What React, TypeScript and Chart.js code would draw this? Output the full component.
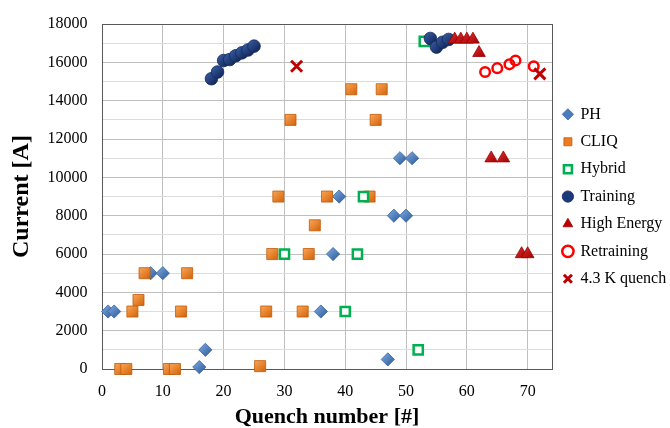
import { useEffect, useRef } from 'react';
import { Chart, registerables } from 'chart.js';

Chart.register(...registerables);

const SERIF = "'Liberation Serif', 'Times New Roman', serif";

// Quench number / current pairs for each quench category
const PH_X = [1, 2, 8, 10, 16, 17, 36, 38, 39, 47, 48, 49, 50, 51];
const PH_Y = [3000, 3000, 5000, 5000, 100, 1000, 3000, 6000, 9000, 500, 8000, 11000, 8000, 11000];

const CLIQ_X = [3, 4, 5, 6, 7, 11, 12, 13, 14, 26, 27, 28, 29, 31, 33, 34, 35, 37, 41, 44, 45, 46];
const CLIQ_Y = [0, 0, 3000, 3600, 5000, 0, 0, 3000, 5000, 150, 3000, 6000, 9000, 13000, 3000, 6000, 7500, 9000, 14600, 9000, 13000, 14600];

const HYBRID_X = [30, 40, 42, 43, 52, 53];
const HYBRID_Y = [6000, 3000, 6000, 9000, 1000, 17100];

const TRAINING_X = [18, 19, 20, 21, 22, 23, 24, 25, 54, 55, 56, 57];
const TRAINING_Y = [15150, 15500, 16100, 16150, 16350, 16500, 16650, 16850, 17250, 16800, 17050, 17200];

const HIGH_ENERGY_X = [58, 59, 60, 61, 62, 64, 66, 69, 70];
const HIGH_ENERGY_Y = [17200, 17200, 17200, 17200, 16500, 11000, 11000, 6000, 6000];

const RETRAINING_X = [63, 65, 67, 68, 71];
const RETRAINING_Y = [15500, 15700, 15900, 16100, 15800];

const QUENCH_43K_X = [32, 72];
const QUENCH_43K_Y = [15800, 15400];

// Axis ticks: grid every 1000 A, labels every 2000 A
const X_TICKS = [0, 10, 20, 30, 40, 50, 60, 70];
const Y_GRID = [0, 1000, 2000, 3000, 4000, 5000, 6000, 7000, 8000, 9000, 10000, 11000, 12000, 13000, 14000, 15000, 16000, 17000, 18000];
const Y_LABELS = [0, 2000, 4000, 6000, 8000, 10000, 12000, 14000, 16000, 18000];

const pairs = (xs: number[], ys: number[]) => xs.map((x, i) => ({ x, y: ys[i] }));

// Bevel-like fill: lighter toward the upper left of each marker, darker toward the lower right
const shaded = (light: string, dark: string, flat: string) => (c: any) => {
  const chart = c.chart;
  const raw = c.raw;
  const xs = chart?.scales?.x;
  const ys = chart?.scales?.y;
  if (!raw || !xs || !ys) return flat;
  const px = xs.getPixelForValue(raw.x);
  const py = ys.getPixelForValue(raw.y);
  if (!isFinite(px) || !isFinite(py)) return flat;
  const g = chart.ctx.createLinearGradient(px - 6, py - 6, px + 5, py + 6);
  g.addColorStop(0, light);
  g.addColorStop(1, dark);
  return g;
};

const plotFrame = {
  id: 'plotFrame',
  beforeDatasetsDraw(chart: any) {
    const { ctx, chartArea: a } = chart;
    ctx.save();
    ctx.strokeStyle = '#595959';
    ctx.lineWidth = 1;
    ctx.strokeRect(
      Math.round(a.left) + 0.5,
      Math.round(a.top) + 0.5,
      Math.round(a.right - a.left),
      Math.round(a.bottom - a.top)
    );
    ctx.restore();
  },
};

export default function App() {
  const canvasRef = useRef<HTMLCanvasElement>(null);

  useEffect(() => {
    if (!canvasRef.current) return;
    const base = { showLine: false, clip: false as const };
    const datasets: any[] = [
      {
        ...base, label: 'PH', data: pairs(PH_X, PH_Y),
        pointStyle: 'rectRot', pointRadius: 6.6,
        backgroundColor: shaded('#7ea9df', '#2f5f9e', '#4a7dbf'), borderColor: '#3a659e', borderWidth: 0.8,
        legendFill: '#4a7dbf',
      },
      {
        ...base, label: 'CLIQ', data: pairs(CLIQ_X, CLIQ_Y),
        pointStyle: 'rect', pointRadius: 7.8,
        backgroundColor: shaded('#fba95a', '#d4620a', '#ee7d22'), borderColor: '#c25a08', borderWidth: 0.8,
        legendFill: '#ee7d22',
      },
      {
        ...base, label: 'Hybrid', data: pairs(HYBRID_X, HYBRID_Y),
        pointStyle: 'rect', pointRadius: 6.5,
        backgroundColor: '#ffffff', borderColor: '#00b050', borderWidth: 2.5,
        legendFill: '#ffffff',
      },
      {
        ...base, label: 'Training', data: pairs(TRAINING_X, TRAINING_Y),
        pointStyle: 'circle', pointRadius: 6.3,
        backgroundColor: shaded('#3a5ea6', '#0f2354', '#1c3a7a'), borderColor: '#12295a', borderWidth: 0.8,
        legendFill: '#1c3a7a',
      },
      {
        ...base, label: 'High Energy', data: pairs(HIGH_ENERGY_X, HIGH_ENERGY_Y),
        pointStyle: 'triangle', pointRadius: 7.3,
        backgroundColor: shaded('#e02a2a', '#980000', '#c00000'), borderColor: '#a00000', borderWidth: 0.8,
        legendFill: '#c00000',
      },
      {
        ...base, label: 'Retraining', data: pairs(RETRAINING_X, RETRAINING_Y),
        pointStyle: 'circle', pointRadius: 4.8,
        backgroundColor: 'rgba(255,255,255,0)', borderColor: '#ff0000', borderWidth: 2.5,
        legendFill: 'rgba(255,255,255,0)',
      },
      {
        ...base, label: '4.3 K quench', data: pairs(QUENCH_43K_X, QUENCH_43K_Y),
        pointStyle: 'crossRot', pointRadius: 7.8,
        backgroundColor: '#c00000', borderColor: '#c00000', borderWidth: 3,
        legendFill: '#c00000',
      },
    ];
    // later series are painted over earlier ones
    datasets.forEach((d, i) => { d.order = -i; });

    const defaultLabels = (Chart.defaults as any).plugins.legend.labels.generateLabels;

    const chart = new Chart(canvasRef.current, {
      type: 'scatter',
      data: { datasets },
      options: {
        animation: false,
        responsive: true,
        maintainAspectRatio: false,
        layout: { padding: { top: 17, left: 0, right: 0, bottom: 0 } },
        font: { family: SERIF },
        plugins: {
          tooltip: { enabled: false },
          legend: {
            position: 'right',
            fullSize: false,
            maxWidth: 118,
            labels: {
              usePointStyle: true,
              boxWidth: 9,
              boxHeight: 8,
              padding: 11.4,
              color: '#000000',
              font: { family: SERIF, size: 16 },
              sort: (a: any, b: any) => a.datasetIndex - b.datasetIndex,
              generateLabels: (ch: any) =>
                defaultLabels(ch).map((item: any) => ({
                  ...item,
                  fillStyle: ch.data.datasets[item.datasetIndex].legendFill,
                })),
            },
          },
        },
        scales: {
          x: {
            type: 'linear',
            min: 0,
            max: 74,
            afterBuildTicks: (s: any) => { s.ticks = X_TICKS.map((v) => ({ value: v })); },
            afterFit: (s: any) => { s.height = 59; },
            grid: { color: '#bfbfbf', drawTicks: false },
            border: { color: '#808080' },
            ticks: {
              padding: 13, color: '#000000', maxRotation: 0, autoSkip: false,
              font: { family: SERIF, size: 16 },
            },
            title: {
              display: true, text: 'Quench number [#]', color: '#000000',
              font: { family: SERIF, size: 22, weight: 'bold', lineHeight: 1 },
              padding: { top: 0, bottom: 0 },
            },
          },
          y: {
            type: 'linear',
            min: 0,
            max: 18000,
            afterBuildTicks: (s: any) => { s.ticks = Y_GRID.map((v) => ({ value: v })); },
            afterFit: (s: any) => { s.width = 102; },
            grid: {
              drawTicks: false,
              color: (c: any) => (Y_LABELS.includes(c.tick?.value) ? '#bfbfbf' : '#dcdcdc'),
            },
            border: { color: '#808080' },
            ticks: {
              padding: 14.5, color: '#000000', autoSkip: false,
              font: { family: SERIF, size: 16 },
              callback: (v: any) => (Y_LABELS.includes(Number(v)) ? String(v) : ''),
            },
            title: {
              display: true, text: 'Current [A]', color: '#000000',
              font: { family: SERIF, size: 24, weight: 'bold', lineHeight: 1.2 },
              padding: { top: 7.3, bottom: 0 },
            },
          },
        },
      } as any,
      plugins: [plotFrame],
    });
    return () => chart.destroy();
  }, []);

  return (
    <div style={{ position: 'absolute', left: 0, top: 0, width: 670, height: 428 }}>
      <canvas ref={canvasRef} />
    </div>
  );
}
